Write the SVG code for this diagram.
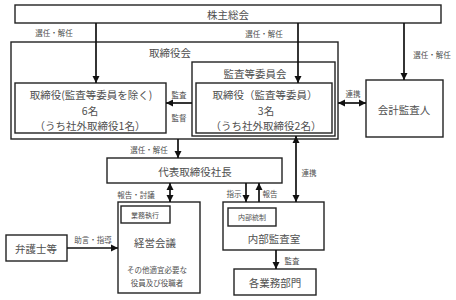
<svg xmlns="http://www.w3.org/2000/svg" width="456" height="300" viewBox="0 0 456 300">
<defs>
<marker id="ah" markerUnits="userSpaceOnUse" markerWidth="8" markerHeight="8" refX="7" refY="4" orient="auto-start-reverse">
<path d="M0,0.5 L7,4 L0,7.5 z" fill="#111"/>
</marker>
<style>
.box{fill:#fff;stroke:#222;stroke-width:1.4}
.t{font-family:"Noto Sans CJK JP","Noto Sans",sans-serif;fill:#505050;text-anchor:middle;dominant-baseline:central}
.m{font-size:10.5px}
.s{font-size:7.5px}
.xs{font-size:7px}
.c{stroke:#111;stroke-width:1.7;fill:none}
</style>
</defs>
<rect width="456" height="300" fill="#fff"/>
<g id="kabunushi"><rect class="box" x="15" y="5" width="426" height="18"/><text class="t m" x="228" y="14">株主総会</text></g>
<g id="torishimariyakukai"><rect class="box" x="11" y="42" width="327" height="97"/><text class="t m" x="170" y="52">取締役会</text></g>
<g id="torishimariyaku"><rect class="box" x="15" y="83" width="151" height="50"/>
<text class="t m" x="91" y="94">取締役(監査等委員を除く)</text>
<text class="t m" x="90" y="110">6名</text>
<text class="t m" x="90" y="125">（うち社外取締役1名）</text></g>
<g id="kansatouiinkai"><rect class="box" x="192" y="62" width="143" height="74"/><text class="t m" x="255" y="73">監査等委員会</text>
<rect class="box" x="196" y="83" width="136" height="50"/>
<text class="t m" x="265" y="94">取締役（監査等委員）</text>
<text class="t m" x="266" y="110">3名</text>
<text class="t m" x="266" y="125">（うち社外取締役2名）</text></g>
<g id="kaikei"><rect class="box" x="366" y="80" width="77" height="57"/><text class="t m" x="404" y="109">会計監査人</text></g>
<g id="daihyo"><rect class="box" x="107" y="158" width="175" height="25"/><text class="t m" x="195" y="171">代表取締役社長</text></g>
<g id="keiei"><rect class="box" x="118" y="202" width="82" height="91"/>
<rect class="box" x="121" y="206" width="49" height="17"/><text class="t xs" x="145" y="214.5">業務執行</text>
<text class="t m" x="155" y="242">経営会議</text>
<text class="t s" x="157" y="269">その他適宜必要な</text>
<text class="t s" x="157" y="282">役員及び役職者</text></g>
<g id="bengoshi"><rect class="box" x="6" y="235" width="61" height="26"/><text class="t m" x="36" y="248">弁護士等</text></g>
<g id="naibukansa"><rect class="box" x="223" y="202" width="101" height="48"/>
<rect class="box" x="228" y="208" width="48" height="18"/><text class="t xs" x="252" y="217">内部統制</text>
<text class="t m" x="274" y="238">内部監査室</text></g>
<g id="kakubumon"><rect class="box" x="234" y="269" width="82" height="26"/><text class="t m" x="275" y="282">各業務部門</text></g>
<g id="connectors">
<line class="c" x1="96" y1="23" x2="96" y2="83" marker-end="url(#ah)"/>
<line class="c" x1="298" y1="23" x2="298" y2="83" marker-end="url(#ah)"/>
<line class="c" x1="404" y1="23" x2="404" y2="80" marker-end="url(#ah)"/>
<line class="c" x1="192" y1="103" x2="166" y2="103" marker-end="url(#ah)"/>
<line class="c" x1="338" y1="103" x2="366" y2="103" marker-start="url(#ah)" marker-end="url(#ah)"/>
<line class="c" x1="178" y1="139" x2="178" y2="158" marker-end="url(#ah)"/>
<line class="c" x1="170" y1="183" x2="170" y2="202" marker-start="url(#ah)" marker-end="url(#ah)"/>
<line class="c" x1="246" y1="183" x2="246" y2="202" marker-end="url(#ah)"/>
<line class="c" x1="259" y1="202" x2="259" y2="183" marker-end="url(#ah)"/>
<line class="c" x1="296" y1="136" x2="296" y2="202" marker-start="url(#ah)" marker-end="url(#ah)"/>
<line class="c" x1="67" y1="248" x2="118" y2="248" marker-end="url(#ah)"/>
<line class="c" x1="276" y1="250" x2="276" y2="269" marker-end="url(#ah)"/>
<text class="t s" x="54" y="32">選任・解任</text>
<text class="t s" x="264" y="33">選任・解任</text>
<text class="t s" x="432" y="54">選任・解任</text>
<text class="t s" x="149" y="149">選任・解任</text>
<text class="t s" x="179" y="94">監査</text>
<text class="t s" x="179" y="117">監督</text>
<text class="t s" x="353" y="93">連携</text>
<text class="t s" x="136" y="194">報告・討議</text>
<text class="t s" x="234" y="193">指示</text>
<text class="t s" x="270" y="193">報告</text>
<text class="t s" x="309" y="172">連携</text>
<text class="t s" x="93" y="239">助言・指導</text>
<text class="t s" x="292" y="260">監査</text>
</g>
</svg>
